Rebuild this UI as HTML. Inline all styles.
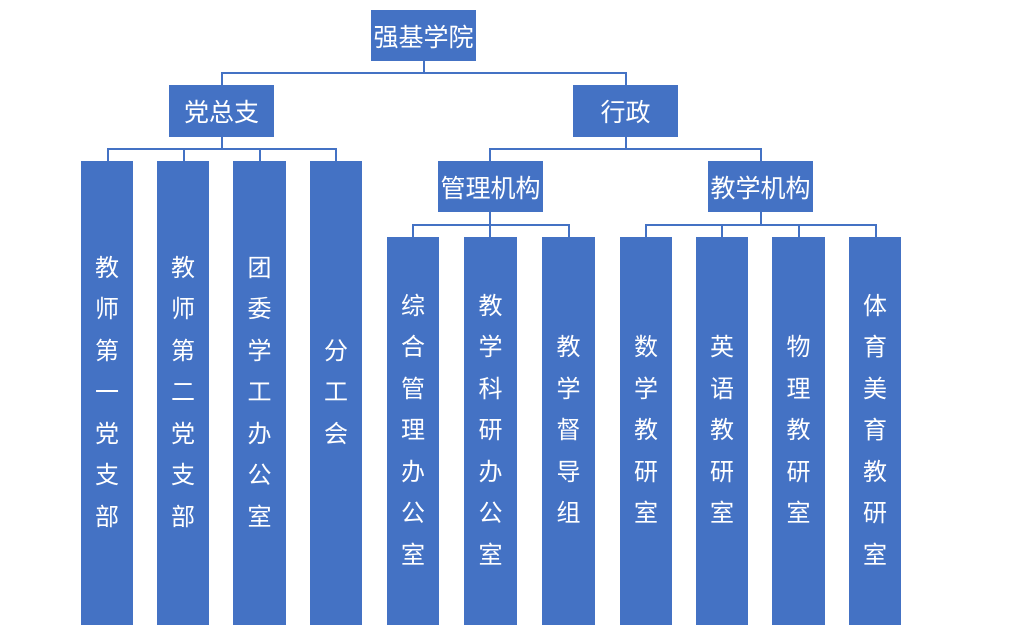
<!DOCTYPE html>
<html><head><meta charset="utf-8"><style>
body{margin:0;width:1024px;height:625px;background:#fff;position:relative;overflow:hidden;font-family:"Liberation Sans","Noto Sans CJK SC",sans-serif}
.b{position:absolute;background:#4472C4;color:#fff;display:flex;align-items:center;justify-content:center;font-size:25px}
.v{flex-direction:column;font-size:24px;line-height:41.5px;text-align:center;width:52px}
.l{position:absolute;background:#4472C4}
</style></head><body>
<div class="b" style="left:371px;top:10px;width:105px;height:51px">强基学院</div>
<div class="l" style="left:423px;top:61px;width:2px;height:12px"></div>
<div class="l" style="left:221px;top:72px;width:406px;height:2px"></div>
<div class="l" style="left:221px;top:72px;width:2px;height:13px"></div>
<div class="l" style="left:625px;top:72px;width:2px;height:13px"></div>
<div class="b" style="left:169px;top:85px;width:105px;height:52px">党总支</div>
<div class="b" style="left:573px;top:85px;width:105px;height:52px">行政</div>

<div class="l" style="left:221px;top:137px;width:2px;height:12px"></div>
<div class="l" style="left:107px;top:148px;width:230px;height:2px"></div>
<div class="l" style="left:107px;top:148px;width:2px;height:13px"></div>
<div class="l" style="left:183px;top:148px;width:2px;height:13px"></div>
<div class="l" style="left:259px;top:148px;width:2px;height:13px"></div>
<div class="l" style="left:335px;top:148px;width:2px;height:13px"></div>
<div class="b v" style="left:81px;top:161px;height:464px">教<br>师<br>第<br>一<br>党<br>支<br>部</div>
<div class="b v" style="left:157px;top:161px;height:464px">教<br>师<br>第<br>二<br>党<br>支<br>部</div>
<div class="b v" style="left:233px;top:161px;height:464px;width:53px">团<br>委<br>学<br>工<br>办<br>公<br>室</div>
<div class="b v" style="left:310px;top:161px;height:464px">分<br>工<br>会</div>

<div class="l" style="left:625px;top:137px;width:2px;height:12px"></div>
<div class="l" style="left:489px;top:148px;width:273px;height:2px"></div>
<div class="l" style="left:489px;top:148px;width:2px;height:13px"></div>
<div class="l" style="left:760px;top:148px;width:2px;height:13px"></div>
<div class="b" style="left:438px;top:161px;width:105px;height:51px">管理机构</div>
<div class="b" style="left:708px;top:161px;width:105px;height:51px">教学机构</div>

<div class="l" style="left:489px;top:212px;width:2px;height:13px"></div>
<div class="l" style="left:412px;top:224px;width:158px;height:2px"></div>
<div class="l" style="left:412px;top:224px;width:2px;height:13px"></div>
<div class="l" style="left:489px;top:224px;width:2px;height:13px"></div>
<div class="l" style="left:568px;top:224px;width:2px;height:13px"></div>
<div class="b v" style="left:387px;top:237px;height:388px">综<br>合<br>管<br>理<br>办<br>公<br>室</div>
<div class="b v" style="left:464px;top:237px;height:388px;width:53px">教<br>学<br>科<br>研<br>办<br>公<br>室</div>
<div class="b v" style="left:542px;top:237px;height:388px;width:53px">教<br>学<br>督<br>导<br>组</div>

<div class="l" style="left:760px;top:212px;width:2px;height:13px"></div>
<div class="l" style="left:645px;top:224px;width:232px;height:2px"></div>
<div class="l" style="left:645px;top:224px;width:2px;height:13px"></div>
<div class="l" style="left:721px;top:224px;width:2px;height:13px"></div>
<div class="l" style="left:798px;top:224px;width:2px;height:13px"></div>
<div class="l" style="left:875px;top:224px;width:2px;height:13px"></div>
<div class="b v" style="left:620px;top:237px;height:388px">数<br>学<br>教<br>研<br>室</div>
<div class="b v" style="left:696px;top:237px;height:388px">英<br>语<br>教<br>研<br>室</div>
<div class="b v" style="left:772px;top:237px;height:388px;width:53px">物<br>理<br>教<br>研<br>室</div>
<div class="b v" style="left:849px;top:237px;height:388px">体<br>育<br>美<br>育<br>教<br>研<br>室</div>
</body></html>
